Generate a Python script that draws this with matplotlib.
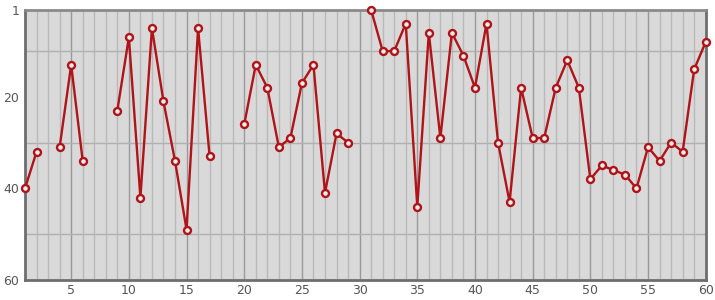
import numpy as np
import matplotlib
matplotlib.use('Agg')
import matplotlib.pyplot as plt
from matplotlib.ticker import MultipleLocator, FixedLocator

# positions per day, None = no data
days = list(range(1, 61))
positions = [40, 32, None, 31, 13, 34, None, None, 23, 7,
             42, 5, 21, 34, 49, 5, 33, None, None, 26,
             13, 18, 31, 29, 17, 13, 41, 28, 30, None,
             1, 10, 10, 4, 44, 6, 29, 6, 11, 18,
             4, 30, 43, 18, 29, 29, 18, 12, 18, 38,
             35, 36, 37, 40, 31, 34, 30, 32, 14, 8]
xTickLabels = [5, 10, 15, 20, 25, 30, 35, 40, 45, 50, 55, 60]
yTickLabels = [1, 20, 40, 60]

lineColor = '#b01318'
y = np.array([np.nan if p is None else p for p in positions], dtype=float)

fig = plt.figure(figsize=(7.15, 3.0), dpi=100)
ax = fig.add_axes([0.035, 0.067, 0.952, 0.9])
ax.set_facecolor('#d9d9d9')

ax.plot(days, y, color=lineColor, linewidth=1.7, marker='o', markersize=5,
        markerfacecolor='#ececec', markeredgecolor=lineColor,
        markeredgewidth=1.7, zorder=3, clip_on=False)

ax.set_xlim(1, 60)
ax.set_ylim(60, 1)

ax.xaxis.set_major_locator(FixedLocator(xTickLabels))
ax.xaxis.set_minor_locator(MultipleLocator(1))
ax.yaxis.set_major_locator(FixedLocator(yTickLabels))
ax.yaxis.set_minor_locator(FixedLocator([10, 20, 30, 40, 50]))

ax.grid(which='minor', axis='x', color='#b9b9b9', linewidth=1)
ax.grid(which='major', axis='x', color='#9a9a9a', linewidth=1)
ax.grid(which='minor', axis='y', color='#b0b0b0', linewidth=1)
ax.set_axisbelow(True)

ax.tick_params(which='both', length=0, labelsize=9, labelcolor='#555555', pad=3)
ax.tick_params(axis='y', pad=4)

for side in ['left', 'bottom', 'top', 'right']:
    ax.spines[side].set_color('#6e6e6e')
    ax.spines[side].set_linewidth(2)
ax.spines['top'].set_color('#8a8a8a')

plt.savefig('out.png', dpi=100)
plt.close()
